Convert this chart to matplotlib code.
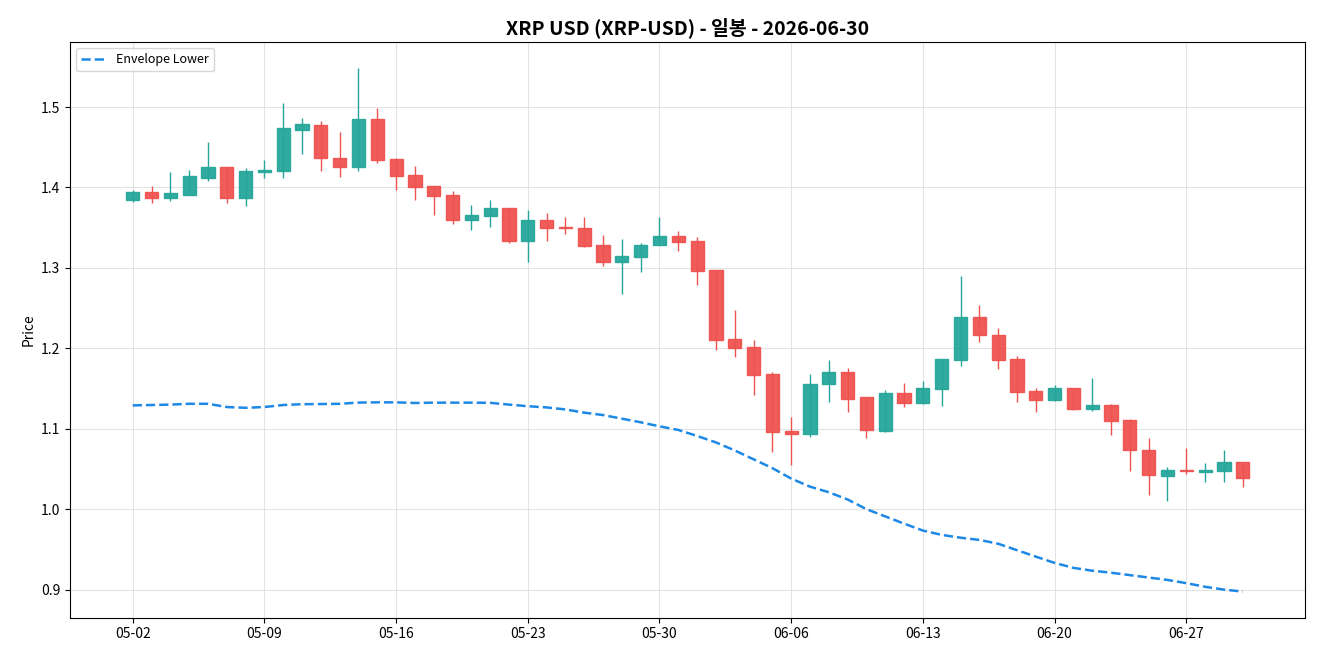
import matplotlib
matplotlib.use("Agg")
import matplotlib.pyplot as plt
import matplotlib.dates as mdates
import numpy as np
import pandas as pd

plt.rcParams['font.family'] = ['Noto Sans CJK KR', 'DejaVu Sans']

dates = pd.date_range("2026-05-02", "2026-06-30", freq="D")

opens = [1.385, 1.394, 1.387, 1.391, 1.412, 1.426, 1.387, 1.419, 1.420, 1.472,
         1.478, 1.437, 1.426, 1.485, 1.435, 1.415, 1.402, 1.390, 1.360, 1.365,
         1.374, 1.334, 1.359, 1.351, 1.350, 1.329, 1.307, 1.314, 1.328, 1.339,
         1.333, 1.297, 1.211, 1.202, 1.168, 1.097, 1.094, 1.155, 1.170, 1.139,
         1.097, 1.144, 1.132, 1.150, 1.186, 1.239, 1.217, 1.187, 1.147, 1.136,
         1.151, 1.125, 1.130, 1.111, 1.074, 1.041, 1.049, 1.046, 1.048, 1.059]
highs = [1.397, 1.402, 1.419, 1.422, 1.456, 1.426, 1.424, 1.434, 1.505, 1.486,
         1.482, 1.469, 1.548, 1.499, 1.437, 1.427, 1.402, 1.395, 1.378, 1.384,
         1.374, 1.372, 1.368, 1.363, 1.363, 1.341, 1.336, 1.331, 1.363, 1.346,
         1.338, 1.297, 1.247, 1.210, 1.171, 1.114, 1.168, 1.185, 1.176, 1.140,
         1.148, 1.157, 1.159, 1.187, 1.290, 1.254, 1.225, 1.191, 1.151, 1.154,
         1.151, 1.163, 1.131, 1.112, 1.088, 1.052, 1.076, 1.057, 1.074, 1.059]
lows = [1.382, 1.381, 1.383, 1.390, 1.408, 1.381, 1.377, 1.412, 1.412, 1.442,
        1.420, 1.413, 1.421, 1.430, 1.397, 1.384, 1.366, 1.354, 1.347, 1.351,
        1.331, 1.307, 1.334, 1.342, 1.326, 1.302, 1.268, 1.295, 1.328, 1.321,
        1.279, 1.198, 1.189, 1.142, 1.071, 1.055, 1.090, 1.133, 1.121, 1.089,
        1.096, 1.127, 1.131, 1.128, 1.178, 1.208, 1.174, 1.133, 1.121, 1.135,
        1.123, 1.122, 1.092, 1.047, 1.017, 1.010, 1.044, 1.034, 1.034, 1.027]
closes = [1.394, 1.387, 1.393, 1.414, 1.426, 1.387, 1.420, 1.422, 1.474, 1.479,
          1.436, 1.426, 1.485, 1.434, 1.414, 1.401, 1.389, 1.360, 1.366, 1.374,
          1.334, 1.359, 1.350, 1.349, 1.327, 1.307, 1.315, 1.329, 1.339, 1.332,
          1.296, 1.210, 1.200, 1.167, 1.096, 1.094, 1.156, 1.170, 1.137, 1.098,
          1.144, 1.132, 1.151, 1.187, 1.239, 1.216, 1.186, 1.146, 1.136, 1.151,
          1.125, 1.130, 1.110, 1.073, 1.042, 1.049, 1.047, 1.049, 1.059, 1.039]
env_lower = [1.129, 1.1295, 1.130, 1.131, 1.131, 1.127, 1.126, 1.127, 1.1295, 1.1305,
             1.1307, 1.131, 1.1325, 1.1328, 1.1328, 1.132, 1.1324, 1.1324, 1.1324, 1.1322,
             1.130, 1.128, 1.1265, 1.124, 1.120, 1.117, 1.1125, 1.108, 1.103, 1.0985,
             1.091, 1.083, 1.073, 1.062, 1.051, 1.038, 1.028, 1.021, 1.012, 1.000,
             0.991, 0.982, 0.9734, 0.968, 0.9645, 0.9618, 0.957, 0.949, 0.941, 0.9332,
             0.927, 0.9235, 0.921, 0.918, 0.915, 0.912, 0.908, 0.9035, 0.900, 0.8975]

up_color = '#26a69a'
down_color = '#ef5350'

fig, ax = plt.subplots(figsize=(13.2, 6.6), dpi=100)

o = np.array(opens)
c = np.array(closes)
colors = [up_color if cc >= oo else down_color for oo, cc in zip(o, c)]

ax.vlines(dates, lows, highs, colors=colors, linewidth=1, zorder=2)
ax.bar(dates, np.abs(c - o), bottom=np.minimum(o, c), width=0.7,
       color=colors, edgecolor=colors, linewidth=1, alpha=0.95, zorder=3)

ax.plot(dates, env_lower, color='#1e88e5', linestyle='--', linewidth=1.8,
        label='Envelope Lower', zorder=4)

ax.set_title('XRP USD (XRP-USD) - 일봉 - 2026-06-30', fontsize=14, fontweight='bold')
ax.set_ylabel('Price', fontsize=10)
ax.set_xticks(dates[::7])
ax.xaxis.set_major_formatter(mdates.DateFormatter('%m-%d'))
ax.tick_params(labelsize=10)
ax.grid(True, color='#dddddd', linewidth=0.8, alpha=0.8)
ax.set_axisbelow(True)
ax.legend(loc='upper left', fontsize=9)

plt.subplots_adjust(left=0.053, right=0.989, top=0.936, bottom=0.064)
plt.savefig('out.png')
